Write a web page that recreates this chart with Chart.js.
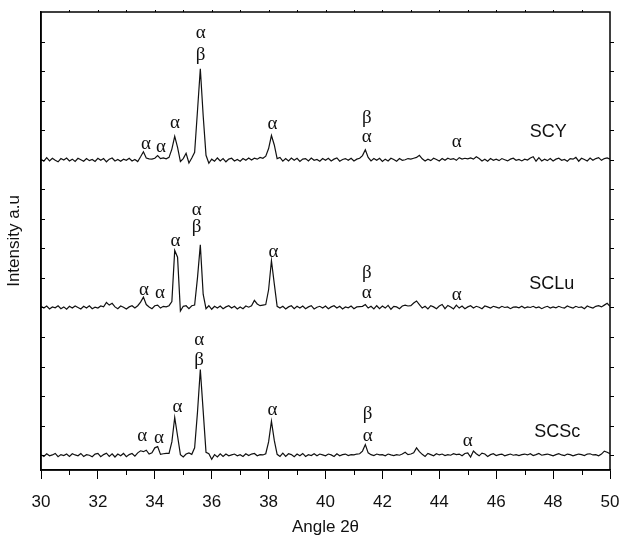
<!DOCTYPE html>
<html>
<head>
<meta charset="utf-8">
<title>XRD patterns</title>
<script src="https://cdn.jsdelivr.net/npm/chart.js@4.4.1/dist/chart.umd.min.js"></script>
<style>
  html, body { margin: 0; padding: 0; background: #fff; }
  #wrap { width: 624px; height: 542px; position: relative; }
</style>
</head>
<body>
<div id="wrap"><canvas id="xrdChart" width="624" height="542"></canvas></div>
<script>
// 2theta sampling: 30.0 .. 50.0 in 0.1 deg steps (201 points)
const ANGLE_START = 30;
const ANGLE_STEP = 0.1;

// intensities above each pattern's own baseline (a.u., 100 = one y tick)
const SCY = [
   2, -5,  7, -4,  5, -2, -7,  4, -1,  6,
  -4,  2, -6,  5,  0, -5,  4, -3,  1, -6,
   5, -2,  4, -7,  2,  6, -4,  1, -5,  2,
  -2,  5, -4,  1, -6, 10, 27,  6,  3,  2,
   5, 14,  4,  6,  3,  8, 36, 79, 42, -6,
   4, 22, -11, 6, 25, 165, 308, 150, 15, -12,
   2, -5,  6, -4,  4, -7,  2,  5, -4,  1,
  -5,  4, -2,  6, -1,  5,  2,  8,  5, 12,
  38, 82, 50,  4,  8, -5,  4, -4,  6, -2,
   5, -6,  2,  4, -4,  6, -2,  1, -5,  4,
  -2,  5, -4,  2,  6, -5,  1,  4, -2,  5,
  -4,  2,  5, 14, 34,  8, -4,  4, -2,  5,
  -6,  2, -4,  5,  1, -5,  4, -2,  0,  4,
   2,  5,  8, 15,  3, -4,  2, -3,  5,  1,
  -4,  4, -2,  5,  1,  4, -2,  7,  2,  5,
   3,  6,  2, 10,  4, -4,  2, -5,  4, -2,
   2, -3,  4,  0, -4,  2,  5, -2,  1, -4,
   2, -1,  6, 10, -5,  7, -4,  2, -3,  4,
  -4,  2,  5, -2,  1, -5,  4,  2,  8, -5,
   5,  1, -4,  6, -2,  4,  7, -2,  4,  6,
   2
];

const SCLU = [
   4, -2,  5, -5,  2, -1,  6, -4,  2, -6,
   4, -2,  5,  0, -5,  4, -2,  6, -4,  1,
  -2,  5,  2, 17,  8, 14,  2, -4,  5,  1,
  -5,  2,  6, -2,  6, 18, 35, 10,  2, -4,
   6,  8, -2,  4,  2,  6, 20, 193, 170, -12,
   4,  6, -4,  6,  8, 100, 212, 45, -4,  6,
  -6,  4, -2,  5, -4,  2,  6, -2,  4, -5,
   2, -4,  5,  1,  6, 24, 12,  6,  8, 10,
  60, 158, 80, 4, -2,  4, -5,  2,  6, -4,
   4, -2,  5, -4,  2,  6, -5,  1,  4, -2,
   5, -4,  2,  6, -2,  4, -5,  2, -1,  5,
  -4,  2,  3,  4, 10, -2,  4, -5,  6, -4,
   5, -2,  7, -6,  4,  2, -4,  5,  8,  5,
   6, 15, 22, 10, -2,  4, -5,  6,  2, -4,
   5, 10, -4,  7,  2, -5,  8, -2,  5, -4,
   2,  6, -2,  4,  1, -4,  5,  2, -2,  4,
   1, -2,  4,  0,  2, -4,  1,  2, -1,  4,
  -2,  2,  0,  4, -1,  2, -4,  1,  4, -2,
   2, -1,  4,  0, -2,  5,  1, -2,  4,  0,
   2, -4,  5,  1, -2,  4,  6,  2,  8, 14,
   4
];

const SCSC = [
   2, -4,  5, -2,  1,  6, -5,  2, -1,  4,
  -4,  5,  1, -2,  6, -4,  2,  0, -5,  4,
   6, -5,  2,  7, -4,  5, -6,  4, -2,  6,
  -5,  2,  6, -3,  8, 15, 12, 17,  4,  8,
  25, 29,  3,  5,  6,  6, 45, 128, 65,  2,
  -6,  4,  8,  3, 25, 145, 290, 150, 10,  5,
  -14, 2, -6,  5, -4,  4, -2,  1,  4, -2,
   2, -4,  5, -1,  4,  6, -2,  2,  1,  5,
  45, 115, 50, 3, -4,  7, -4,  5,  2, -5,
   4, -2,  6, -4,  2, -1,  5, -2,  4,  1,
  -2,  4,  1, -4,  5, -2,  2,  4, -1,  2,
   1,  4,  5, 14, 36,  8,  2, -1,  4,  1,
   2, -2,  4,  1, -1,  2,  0,  4, 10,  2,
   4,  8, 25, 12,  3, -4,  6,  2, -2,  5,
   1,  4, -1,  2,  0,  5,  2,  4, -2,  6,
   8, -6, 14,  5, -2,  7,  4, -4,  2,  5,
  -1,  2,  4, -2,  1,  4,  0,  2, -1,  2,
   4,  1,  5, -1,  2,  6,  0,  2,  4,  1,
  -2,  2,  5,  1, -1,  4,  2, -2,  1,  4,
   2, -1,  4,  5,  1,  2, -2,  4, 14, 10,
   5
];

// vertical offsets used to stack the patterns
const OFFSETS = { SCY: 1000, SCLu: 500, SCSc: 0 };

// axis ticks
const X_MAJOR_STEP = 2;
const X_MINOR_TICKS = [31, 33, 35, 37, 39, 41, 43, 45, 47, 49];
const X_TOP_TICKS = [31, 32, 33, 34, 35, 36, 37, 38, 39, 40, 41, 42, 43, 44, 45, 46, 47, 48, 49];
const Y_TICKS = [0, 100, 200, 300, 400, 500, 600, 700, 800, 900, 1000, 1100, 1200, 1300, 1400];

// phase labels above the reflections (x in deg, y in stacked a.u.)
const PHASE_LABELS = [
  // SCY
  { x: 35.61, y: 1424, text: 'α' }, { x: 35.61, y: 1351, text: 'β' },
  { x: 34.71, y: 1122, text: 'α' }, { x: 33.69, y: 1050, text: 'α' },
  { x: 34.22, y: 1041, text: 'α' }, { x: 38.14, y: 1118, text: 'α' },
  { x: 41.45, y: 1137, text: 'β' }, { x: 41.45, y: 1073, text: 'α' },
  { x: 44.61, y: 1055, text: 'α' },
  // SCLu
  { x: 35.47, y: 827, text: 'α' }, { x: 35.47, y: 769, text: 'β' },
  { x: 34.73, y: 723, text: 'α' }, { x: 33.62, y: 557, text: 'α' },
  { x: 34.18, y: 546, text: 'α' }, { x: 38.17, y: 683, text: 'α' },
  { x: 41.45, y: 614, text: 'β' }, { x: 41.45, y: 546, text: 'α' },
  { x: 44.61, y: 540, text: 'α' },
  // SCSc
  { x: 35.56, y: 386, text: 'α' }, { x: 35.56, y: 318, text: 'β' },
  { x: 34.80, y: 161, text: 'α' }, { x: 33.56, y: 60, text: 'α' },
  { x: 34.15, y: 56, text: 'α' }, { x: 38.14, y: 150, text: 'α' },
  { x: 41.48, y: 135, text: 'β' }, { x: 41.48, y: 62, text: 'α' },
  { x: 45.00, y: 45, text: 'α' }
];

const SAMPLE_LABELS = [
  { x: 47.83, y: 1098, text: 'SCY' },
  { x: 47.95, y: 585, text: 'SCLu' },
  { x: 48.15, y: 84, text: 'SCSc' }
];

const SANS = '"Liberation Sans", Arial, sans-serif';
const SERIF = '"Liberation Serif", "Times New Roman", serif';

function toPoints(values, offset) {
  return values.map((v, i) => ({
    x: +(ANGLE_START + i * ANGLE_STEP).toFixed(1),
    y: v + offset
  }));
}

// frame, inner/outer small ticks that Chart.js does not draw by itself
const frameTicks = {
  id: 'frameTicks',
  afterDraw(chart) {
    const { ctx, chartArea: a, scales: { x, y } } = chart;
    ctx.save();
    ctx.strokeStyle = '#000';
    ctx.lineWidth = 1;
    ctx.beginPath();
    Y_TICKS.forEach(v => {
      const py = Math.round(y.getPixelForValue(v)) + 0.5;
      ctx.moveTo(a.left, py);
      ctx.lineTo(a.left + 4, py);
      ctx.moveTo(a.right, py);
      ctx.lineTo(a.right + 4, py);
    });
    X_MINOR_TICKS.forEach(v => {
      const px = Math.round(x.getPixelForValue(v)) + 0.5;
      ctx.moveTo(px, a.bottom);
      ctx.lineTo(px, a.bottom + 5);
    });
    X_TOP_TICKS.forEach(v => {
      const px = Math.round(x.getPixelForValue(v)) + 0.5;
      ctx.moveTo(px, a.top);
      ctx.lineTo(px, a.top - 2);
    });
    ctx.stroke();
    ctx.lineWidth = 1.5;
    ctx.strokeRect(a.left, a.top, a.right - a.left, a.bottom - a.top);
    ctx.restore();
  }
};

// text annotations placed through the data scales
const peakLabels = {
  id: 'peakLabels',
  afterDatasetsDraw(chart) {
    const { ctx, scales: { x, y } } = chart;
    ctx.save();
    ctx.fillStyle = '#111';
    ctx.textAlign = 'center';
    ctx.textBaseline = 'alphabetic';
    ctx.font = '19px ' + SERIF;
    PHASE_LABELS.forEach(l => {
      ctx.fillText(l.text, x.getPixelForValue(l.x), y.getPixelForValue(l.y) + 4);
    });
    ctx.font = '18px ' + SANS;
    SAMPLE_LABELS.forEach(l => {
      ctx.fillText(l.text, x.getPixelForValue(l.x), y.getPixelForValue(l.y) + 6.5);
    });
    ctx.restore();
  }
};

const line = (label, data) => ({
  label,
  data,
  borderColor: '#111',
  borderWidth: 1.2,
  pointRadius: 0,
  tension: 0,
  fill: false
});

new Chart(document.getElementById('xrdChart'), {
  type: 'line',
  data: {
    datasets: [
      line('SCY', toPoints(SCY, OFFSETS.SCY)),
      line('SCLu', toPoints(SCLU, OFFSETS.SCLu)),
      line('SCSc', toPoints(SCSC, OFFSETS.SCSc))
    ]
  },
  options: {
    responsive: false,
    animation: false,
    layout: { padding: { top: 12, right: 14, left: 0, bottom: 0 } },
    plugins: {
      legend: { display: false },
      tooltip: { enabled: false }
    },
    scales: {
      x: {
        type: 'linear',
        min: 30,
        max: 50,
        border: { display: true, color: '#000', width: 1.5 },
        grid: { drawOnChartArea: false, tickLength: 9, color: '#000', tickWidth: 1 },
        ticks: {
          stepSize: X_MAJOR_STEP,
          color: '#111',
          padding: 13,
          maxRotation: 0,
          font: { family: SANS, size: 17 }
        },
        title: {
          display: true,
          text: 'Angle 2θ',
          color: '#111',
          font: { family: SANS, size: 17 },
          padding: { top: 2, bottom: 4 }
        },
        afterFit(scale) {
          scale.height = 72;
          scale.paddingLeft = 0;
          scale.paddingRight = 0;
        }
      },
      y: {
        type: 'linear',
        min: -50,
        max: 1500,
        border: { display: true, color: '#000', width: 1.5 },
        grid: { drawOnChartArea: false, drawTicks: false },
        ticks: { display: false },
        title: {
          display: true,
          text: 'Intensity a.u',
          color: '#111',
          font: { family: SANS, size: 17 },
          padding: { top: 4, bottom: 0 }
        },
        afterFit(scale) { scale.width = 41; }
      }
    }
  },
  plugins: [frameTicks, peakLabels]
});
</script>
</body>
</html>
